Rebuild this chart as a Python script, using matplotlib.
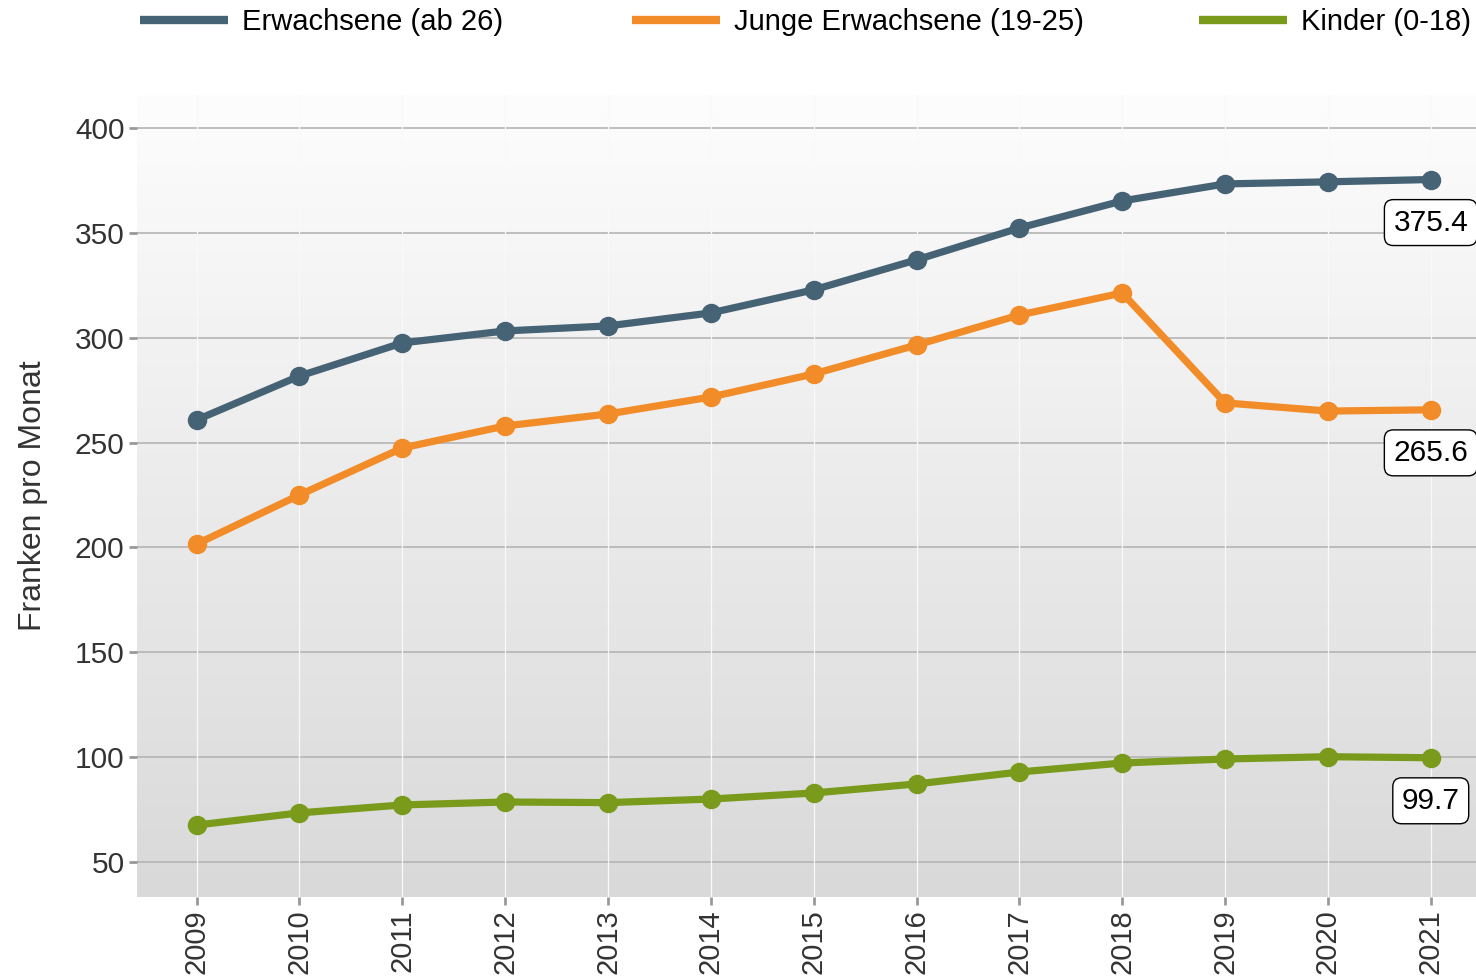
import matplotlib.pyplot as plt
import numpy as np

plt.rcParams['font.family'] = ['Liberation Sans', 'DejaVu Sans']

jahre = list(range(2009, 2022))
erwachsene = [260.8, 281.7, 297.5, 303.2, 305.6, 311.8, 322.8, 337.1, 352.3, 365.2, 373.3, 374.3, 375.4]
junge = [201.6, 225.0, 247.4, 257.9, 263.6, 271.7, 282.7, 296.5, 310.8, 321.3, 268.9, 265.0, 265.6]
kinder = [67.6, 73.4, 77.2, 78.6, 78.3, 80.0, 82.9, 87.2, 92.9, 97.2, 99.1, 100.2, 99.7]
namen = ["Erwachsene (ab 26)", "Junge Erwachsene (19-25)", "Kinder (0-18)"]
farben = ["#466375", "#f28c28", "#7a9a1c"]
yticks = [50, 100, 150, 200, 250, 300, 350, 400]

fig = plt.figure(figsize=(14.76, 9.8), dpi=100)
ax = fig.add_axes([137/1476, 1-897/980, 1-137/1476, (897-95)/980])

# hintergrund mit verlauf
grad = np.linspace(0, 1, 256).reshape(-1, 1)
ax.imshow(grad, aspect='auto', extent=[0, 1, 0, 1], transform=ax.transAxes,
          cmap=plt.matplotlib.colors.LinearSegmentedColormap.from_list('g', ['#d9d9d9', '#fdfdfd']),
          origin='lower', zorder=0)

ax.set_xlim(2008.42, 2021.44)
ax.set_ylim(33.3, 415.7)

for y in yticks:
    ax.axhline(y, color='#b4b4b4', lw=1.2, zorder=1)
for x in jahre:
    ax.axvline(x, color='#f9f9f9', lw=0.9, zorder=1)

handles = []
for werte, name, f in zip([erwachsene, junge, kinder], namen, farben):
    ax.plot(jahre, werte, color=f, lw=5.2, marker='o', ms=13, zorder=3)
    h, = ax.plot([], [], color=f, lw=6, label=name, solid_capstyle='butt')
    handles.append(h)
    ax.annotate(f"{werte[-1]:.1f}", (jahre[-1], werte[-1]), xytext=(0, -31),
                textcoords='offset points', ha='center', va='center', fontsize=21.5,
                color='black', zorder=5, annotation_clip=False,
                bbox=dict(boxstyle='round,pad=0.3,rounding_size=0.3', fc='white', ec='black', lw=1))

ax.set_xticks(jahre)
ax.set_xticklabels([str(j) for j in jahre], rotation=90, fontsize=21, color='#333333')
ax.set_yticks(yticks)
ax.set_yticklabels([str(y) for y in yticks], fontsize=21.5, color='#333333')
ax.tick_params(axis='both', length=6, width=2, color='#999999', pad=3)
for s in ax.spines.values():
    s.set_visible(False)
ax.set_ylabel("Franken pro Monat", fontsize=23, color='#333333', labelpad=19)

# legende: drei eintraege, einzeln platziert
for h, x0 in zip(handles, [140, 632, 1199]):
    fig.legend(handles=[h], loc='center left', bbox_to_anchor=(x0/1476, 1-22/980),
               frameon=False, fontsize=21, handlelength=3.0, handletextpad=0.5,
               borderaxespad=0, borderpad=0)

fig.savefig("out.png", dpi=100)
